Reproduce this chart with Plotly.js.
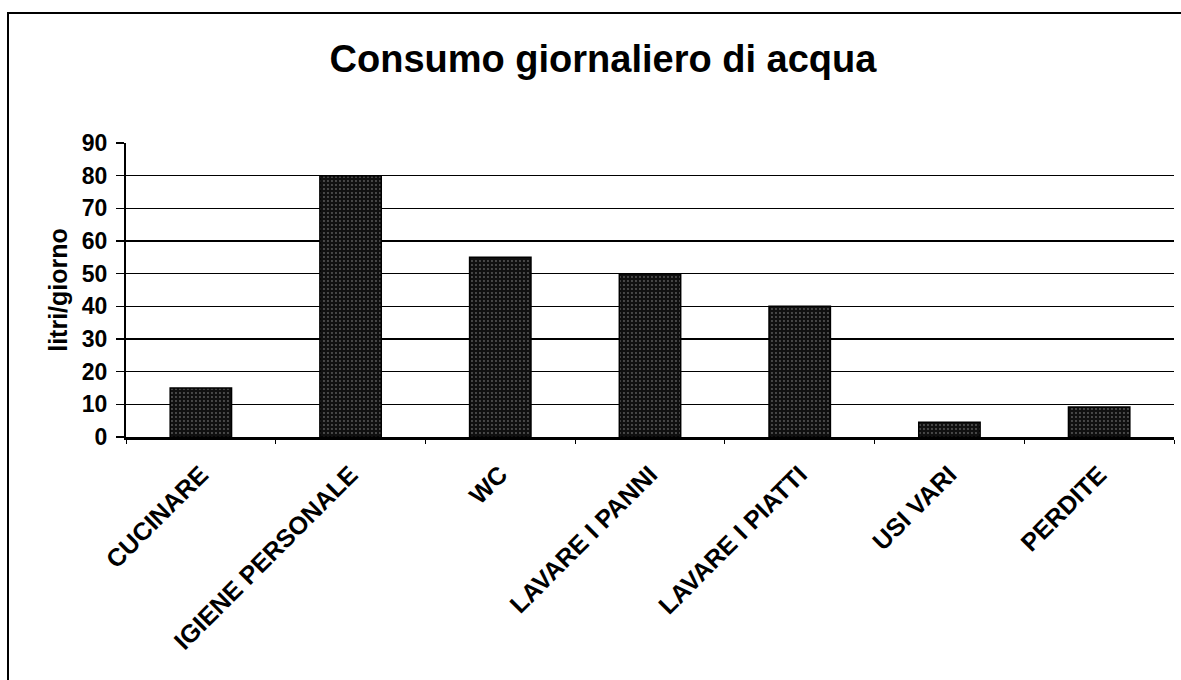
<!DOCTYPE html>
<html>
<head>
<meta charset="utf-8">
<script src="https://cdn.plot.ly/plotly-3.0.1.min.js"></script>
<style>
  html, body { margin: 0; padding: 0; background: #fff; }
  #wrap { position: relative; width: 1181px; height: 680px; overflow: hidden; }
  #chart { position: absolute; left: 0; top: 0; width: 1181px; height: 680px; }
  #frame { position: absolute; left: 7px; top: 12px; width: 1200px; height: 700px;
           border-left: 2px solid #000; border-top: 2px solid #000; pointer-events: none; }
</style>
</head>
<body>
<div id="wrap">
  <div id="chart"></div>
  <div id="frame"></div>
</div>
<script>
const categories = ["CUCINARE", "IGIENE PERSONALE", "WC", "LAVARE I PANNI", "LAVARE I PIATTI", "USI VARI", "PERDITE"];
const litriGiorno = [15, 80, 55, 50, 40, 4.5, 9.2];
const yTicks = [0, 10, 20, 30, 40, 50, 60, 70, 80, 90];

const font = "Liberation Sans, Arial, sans-serif";

const trace = {
  type: "bar",
  x: categories,
  y: litriGiorno,
  marker: {
    color: "#111",
    line: { color: "#000", width: 1.5 },
    pattern: { shape: ".", fgcolor: "#5a5a5a", bgcolor: "#101010", size: 4, solidity: 0.18 }
  },
  hoverinfo: "x+y"
};

const layout = {
  width: 1181,
  height: 680,
  margin: { l: 126, r: 7, t: 143, b: 243 },
  paper_bgcolor: "#fff",
  plot_bgcolor: "#fff",
  showlegend: false,
  bargap: 0.59,
  title: {
    text: "Consumo giornaliero di acqua",
    font: { family: font, size: 38, color: "#000", weight: "bold" },
    xref: "container", x: 603 / 1181, xanchor: "center",
    yref: "container", y: 1 - 59 / 680, yanchor: "middle"
  },
  xaxis: {
    type: "category",
    tickangle: -45,
    tickfont: { family: font, size: 25, color: "#000", weight: "bold" },
    ticks: "outside",
    tickson: "boundaries",
    ticklen: 4,
    tickwidth: 1,
    tickcolor: "#000",
    ticklabelstandoff: 10,
    showline: true,
    linecolor: "#000",
    linewidth: 3,
    showgrid: false,
    fixedrange: true
  },
  yaxis: {
    range: [0, 90],
    tickvals: yTicks,
    ticktext: yTicks.map(String),
    tickfont: { family: font, size: 23, color: "#000", weight: "bold" },
    ticks: "outside",
    ticklen: 8,
    tickwidth: 1.5,
    tickcolor: "#000",
    ticklabelstandoff: 4,
    showline: true,
    linecolor: "#000",
    linewidth: 2,
    showgrid: true,
    gridcolor: "#000",
    gridwidth: 1.5,
    zeroline: false,
    title: {
      text: "litri/giorno",
      font: { family: font, size: 25, color: "#000", weight: "bold" },
      standoff: 7
    },
    fixedrange: true
  }
};

Plotly.newPlot("chart", [trace], layout, { displayModeBar: false, staticPlot: true });
</script>
</body>
</html>
